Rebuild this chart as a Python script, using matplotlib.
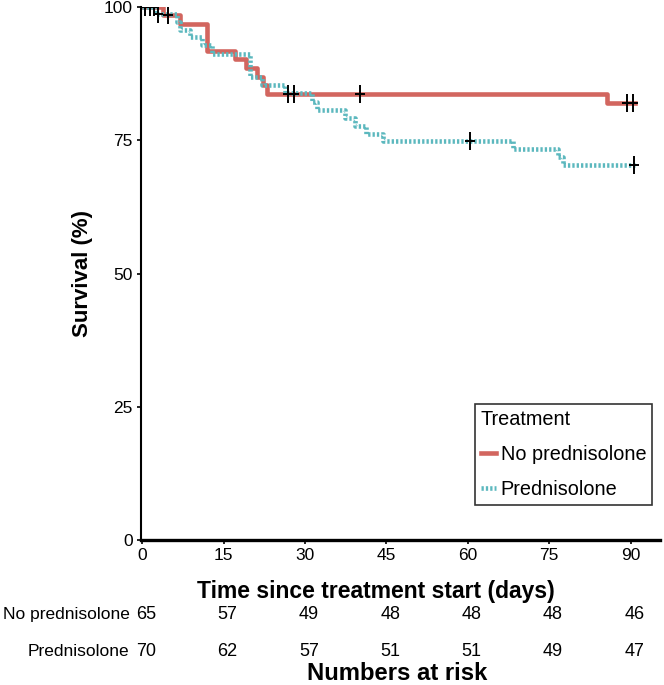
import matplotlib.pyplot as plt
from matplotlib.lines import Line2D

plt.rcParams["font.family"] = ["Liberation Sans", "DejaVu Sans"]

# Kaplan-Meier steps
no_pred_t = [0, 3.9, 7, 12, 17.1, 19.1, 21.2, 22.3, 23, 85.6, 90.8]
no_pred_s = [100, 98.5, 96.9, 91.7, 90.2, 88.5, 86.9, 85.3, 83.7, 82.0, 82.0]
no_pred_cens_t = [4.8, 26.9, 28.0, 40.1, 89.4, 90.5]
no_pred_cens_s = [98.5, 83.7, 83.7, 83.7, 82.0, 82.0]

pred_t = [0, 2.6, 6.4, 7.0, 8.8, 11.0, 12.9, 19.9, 22.1, 26.3, 31.3, 32.2,
          37.4, 39.2, 41.3, 44.4, 68.3, 76.6, 77.5, 90.8]
pred_s = [100, 98.6, 97.1, 95.7, 94.3, 92.8, 91.2, 86.8, 85.3, 83.8, 82.2, 80.7,
          79.2, 77.7, 76.2, 74.9, 73.4, 71.9, 70.4, 70.4]
pred_cens_t = [0.5, 1.4, 2.2, 2.9, 60.4, 90.6]
pred_cens_s = [100, 100, 100, 98.6, 74.9, 70.4]

risk_times = [0, 15, 30, 45, 60, 75, 90]
risk_no_pred = [65, 57, 49, 48, 48, 48, 46]
risk_pred = [70, 62, 57, 51, 51, 49, 47]

red = "#d2665f"
teal = "#5cb8be"
dots = (0, (0.5, 0.45))

fig = plt.figure(figsize=(6.64, 6.85), dpi=100)
ax = fig.add_axes([141 / 664, 145 / 685, 519 / 664, 533 / 685])

ax.step(no_pred_t, no_pred_s, where="post", color=red, lw=3.3)
ax.step(pred_t, pred_s, where="post", color=teal, lw=3.3, ls=dots)
# censor marks: tall thin crosses
for ct, cs in [(no_pred_cens_t, no_pred_cens_s), (pred_cens_t, pred_cens_s)]:
    ax.plot(ct, cs, "|", color="black", ms=13, mew=1.4)
    ax.plot(ct, cs, "_", color="black", ms=7, mew=1.4)

ax.set_xlim(-0.2, 95.4)
ax.set_ylim(0, 100)
ax.set_xticks(risk_times)
ax.set_yticks([0, 25, 50, 75, 100])
ax.tick_params(labelsize=12.5, length=3, width=1.2, pad=3)
ax.spines["top"].set_visible(False)
ax.spines["right"].set_visible(False)
ax.spines["left"].set_linewidth(1.5)
ax.spines["bottom"].set_linewidth(2.4)
ax.set_ylabel("Survival (%)", fontsize=16, fontweight="bold", labelpad=8)

tr = ax.get_xaxis_transform()
ax.text(43.0, -0.096, "Time since treatment start (days)", transform=tr,
        ha="center", va="center", fontsize=16.5, fontweight="bold")
ax.text(-2.3, -0.139, "No prednisolone", transform=tr, ha="right", va="center", fontsize=12.5)
ax.text(-2.3, -0.210, "Prednisolone", transform=tr, ha="right", va="center", fontsize=12.5)
for t, a, b in zip(risk_times, risk_no_pred, risk_pred):
    ax.text(t + 0.7, -0.139, str(a), transform=tr, ha="center", va="center", fontsize=13)
    ax.text(t + 0.7, -0.210, str(b), transform=tr, ha="center", va="center", fontsize=13)
ax.text(47.0, -0.250, "Numbers at risk", transform=tr,
        ha="center", va="center", fontsize=17.2, fontweight="bold")

handles = [Line2D([], [], color=red, lw=3.3),
           Line2D([], [], color=teal, lw=3.3, ls=dots)]
leg = ax.legend(handles, ["No prednisolone", "Prednisolone"], title="Treatment",
                loc="lower right", bbox_to_anchor=(0.985, 0.066), fontsize=14.3,
                title_fontsize=14.3, fancybox=False, edgecolor="black",
                handlelength=0.75, handletextpad=0.25, labelspacing=0.8,
                borderpad=0.3, borderaxespad=0)
leg._legend_box.align = "left"
leg.get_frame().set_linewidth(1.2)

fig.savefig("out.png", dpi=100)
